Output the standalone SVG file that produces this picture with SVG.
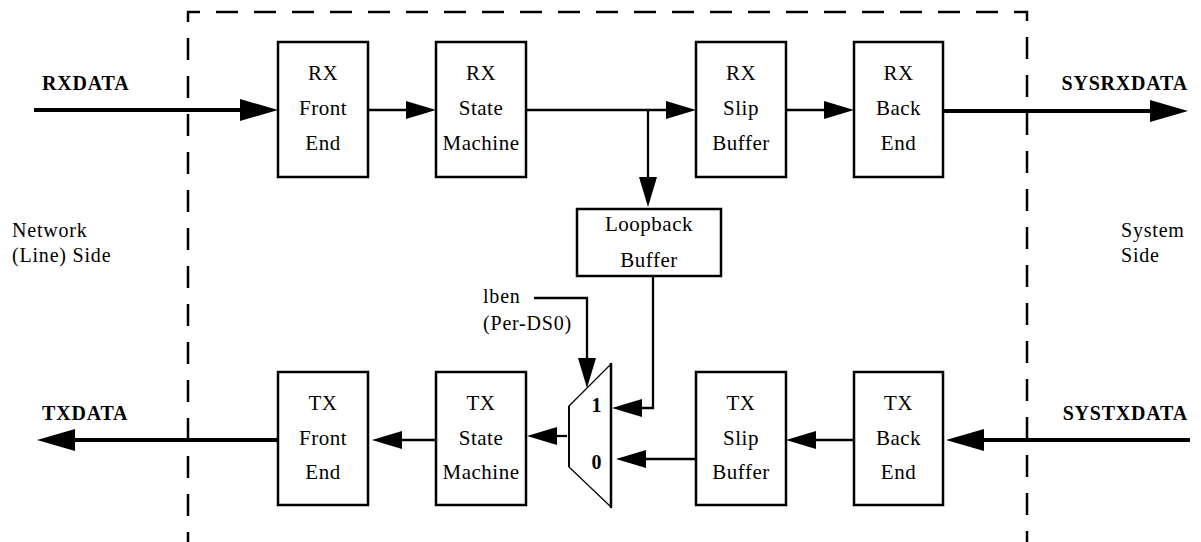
<svg xmlns="http://www.w3.org/2000/svg" width="1201" height="542" viewBox="0 0 1201 542">
  <style>
    .bg { fill: #ffffff; }
    .box { fill: #ffffff; stroke: #000000; stroke-width: 2.5; }
    .lbl { font-family: "Liberation Serif", "Times New Roman", serif; font-size: 21px; fill: #000000; text-anchor: middle; letter-spacing: 0.5px; }
    .side { font-family: "Liberation Serif", "Times New Roman", serif; font-size: 20px; fill: #000000; letter-spacing: 0.8px; }
    .sig { font-family: "Liberation Serif", "Times New Roman", serif; font-size: 20px; font-weight: bold; fill: #000000; letter-spacing: 0.8px; }
    .thin { fill: none; stroke: #000000; stroke-width: 2.3; marker-end: url(#headThin); }
    .thick { fill: none; stroke: #000000; stroke-width: 4; marker-end: url(#headThick); }
    .plain { fill: none; stroke: #000000; stroke-width: 2.3; }
    .frame { fill: none; stroke: #000000; stroke-width: 2.5; stroke-dasharray: 22 16; stroke-dashoffset: 12; }
  </style>
  <defs>
    <marker id="headThin" markerUnits="userSpaceOnUse" markerWidth="32" markerHeight="20" refX="5" refY="9" orient="auto" overflow="visible">
      <path d="M0,0 L30,9 L0,18 Z" fill="#000000"/>
    </marker>
    <marker id="headThick" markerUnits="userSpaceOnUse" markerWidth="40" markerHeight="24" refX="5" refY="11" orient="auto" overflow="visible">
      <path d="M0,0 L38,11 L0,22 Z" fill="#000000"/>
    </marker>
  </defs>

  <rect class="bg" x="0" y="0" width="1201" height="542"/>

  <!-- device boundary -->
  <path class="frame" d="M188,542 V12 H1027 V542"/>

  <!-- side captions -->
  <g id="network-side">
    <text class="side" x="12" y="237">Network</text>
    <text class="side" x="12" y="262">(Line) Side</text>
  </g>
  <g id="system-side">
    <text class="side" x="1121" y="237">System</text>
    <text class="side" x="1121" y="262">Side</text>
  </g>

  <!-- external signals -->
  <g id="rxdata"><text class="sig" x="42" y="90">RXDATA</text></g>
  <g id="sysrxdata"><text class="sig" x="1188" y="90" text-anchor="end">SYSRXDATA</text></g>
  <g id="txdata"><text class="sig" x="42" y="420">TXDATA</text></g>
  <g id="systxdata"><text class="sig" x="1188" y="420" text-anchor="end">SYSTXDATA</text></g>

  <!-- receive path -->
  <g id="rx-front-end">
    <rect class="box" x="278" y="42" width="90" height="135"/>
    <text class="lbl" x="323" y="80">RX</text>
    <text class="lbl" x="323" y="115">Front</text>
    <text class="lbl" x="323" y="150">End</text>
  </g>
  <g id="rx-state-machine">
    <rect class="box" x="436" y="42" width="90" height="135"/>
    <text class="lbl" x="481" y="80">RX</text>
    <text class="lbl" x="481" y="115">State</text>
    <text class="lbl" x="481" y="150">Machine</text>
  </g>
  <g id="rx-slip-buffer">
    <rect class="box" x="696" y="42" width="90" height="135"/>
    <text class="lbl" x="741" y="80">RX</text>
    <text class="lbl" x="741" y="115">Slip</text>
    <text class="lbl" x="741" y="150">Buffer</text>
  </g>
  <g id="rx-back-end">
    <rect class="box" x="854" y="42" width="89" height="135"/>
    <text class="lbl" x="898.500" y="80">RX</text>
    <text class="lbl" x="898.500" y="115">Back</text>
    <text class="lbl" x="898.500" y="150">End</text>
  </g>

  <!-- loopback -->
  <g id="loopback-buffer">
    <rect class="box" x="577" y="209" width="144" height="67"/>
    <text class="lbl" x="649" y="231">Loopback</text>
    <text class="lbl" x="649" y="267">Buffer</text>
  </g>
  <g id="lben">
    <text class="side" x="483" y="303">lben</text>
    <text class="side" x="483" y="330">(Per-DS0)</text>
  </g>

  <!-- transmit path -->
  <g id="tx-front-end">
    <rect class="box" x="278" y="372" width="90" height="133"/>
    <text class="lbl" x="323" y="410">TX</text>
    <text class="lbl" x="323" y="445">Front</text>
    <text class="lbl" x="323" y="479">End</text>
  </g>
  <g id="tx-state-machine">
    <rect class="box" x="436" y="372" width="90" height="133"/>
    <text class="lbl" x="481" y="410">TX</text>
    <text class="lbl" x="481" y="445">State</text>
    <text class="lbl" x="481" y="479">Machine</text>
  </g>
  <g id="mux">
    <polygon points="569,406 611,364 611,507 569,467" fill="#ffffff" stroke="#000000" stroke-width="1.3"/>
    <line x1="611" y1="363" x2="611" y2="508" stroke="#000000" stroke-width="2.5"/>
    <line x1="569" y1="406" x2="569" y2="467" stroke="#000000" stroke-width="1.8"/>
    <text class="sig" x="597" y="412" text-anchor="middle">1</text>
    <text class="sig" x="597" y="469" text-anchor="middle">0</text>
  </g>
  <g id="tx-slip-buffer">
    <rect class="box" x="696" y="372" width="90" height="133"/>
    <text class="lbl" x="741" y="410">TX</text>
    <text class="lbl" x="741" y="445">Slip</text>
    <text class="lbl" x="741" y="479">Buffer</text>
  </g>
  <g id="tx-back-end">
    <rect class="box" x="854" y="372" width="89" height="133"/>
    <text class="lbl" x="898.500" y="410">TX</text>
    <text class="lbl" x="898.500" y="445">Back</text>
    <text class="lbl" x="898.500" y="479">End</text>
  </g>

  <!-- connectors -->
  <g id="connectors">
    <path class="thick" d="M34,110 H245"/>
    <path class="thin" d="M368,110 H411"/>
    <path class="thin" d="M526,110 H671"/>
    <path class="thin" d="M648,110 V182"/>
    <path class="thin" d="M786,110 H829"/>
    <path class="thick" d="M943,111 H1155"/>

    <path class="thin" d="M653,276 V408 H637"/>
    <path class="thin" d="M534,298 H587 V363"/>

    <path class="thick" d="M1190,440 H979"/>
    <path class="thin" d="M854,440 H811"/>
    <path class="thin" d="M696,459 H641"/>
    <path class="thin" d="M567,436 H552"/>
    <path class="thin" d="M436,440 H397"/>
    <path class="thick" d="M278,440 H70"/>
  </g>
</svg>
